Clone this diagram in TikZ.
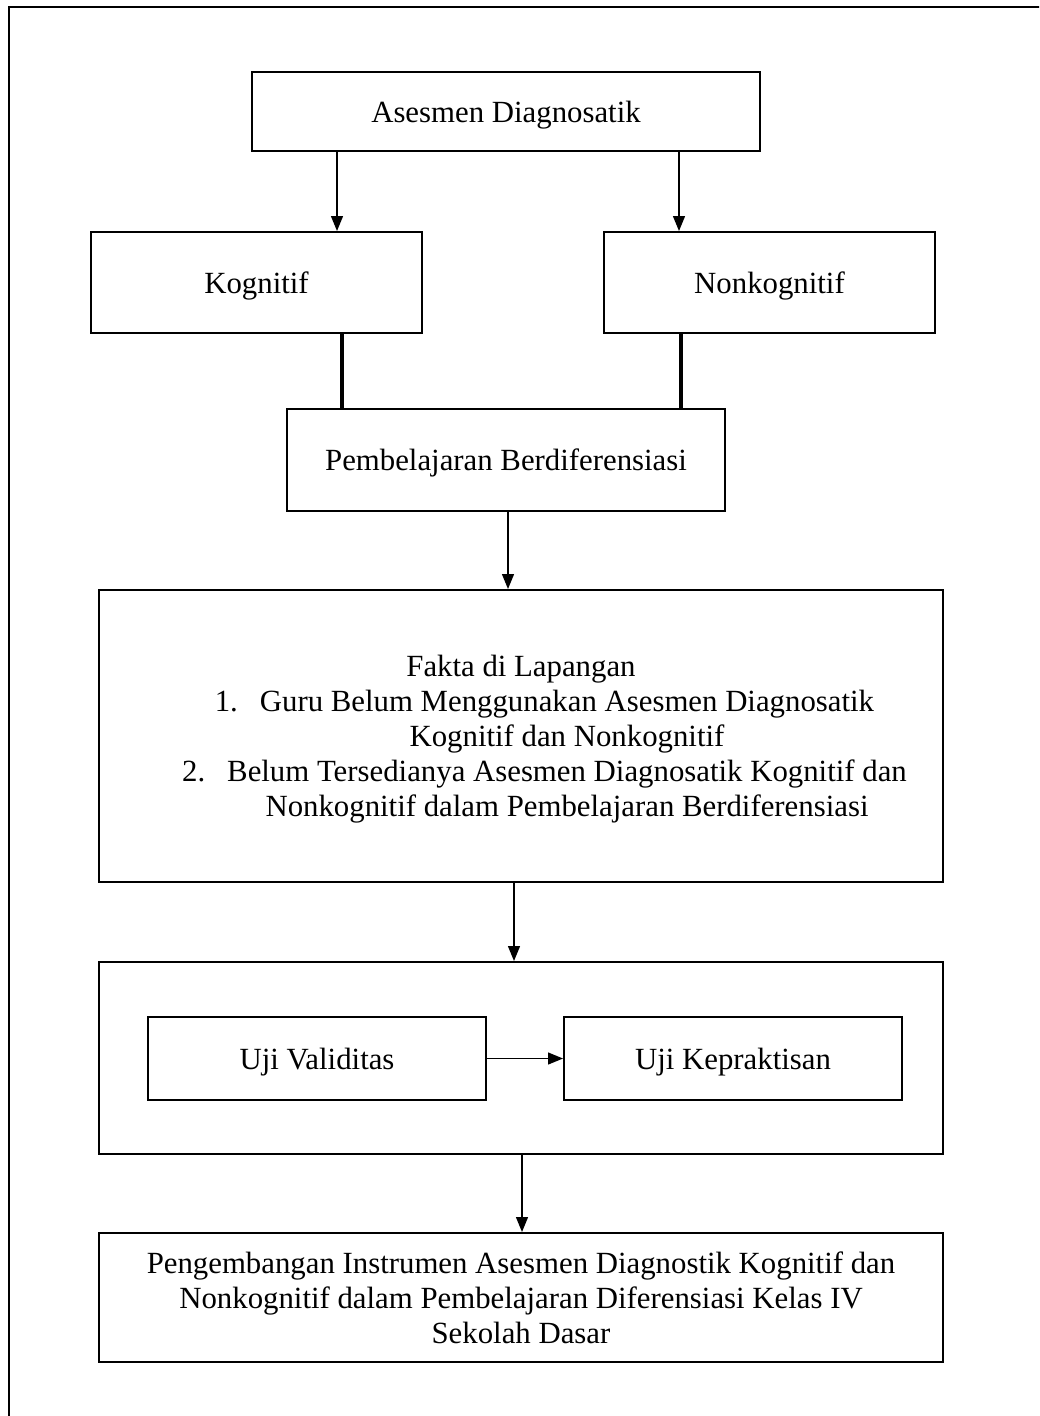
\documentclass[tikz,border=0pt]{standalone}
\usepackage{fontspec}
\setmainfont{Liberation Serif}
\usetikzlibrary{arrows.meta,positioning}

\begin{document}
\begin{tikzpicture}[
  x=1pt,y=-1pt,
  flow/.style={-{Triangle[length=15pt,width=12pt]},draw=black,line width=1.3pt},
  join line/.style={draw=black,line width=3.4pt},
  page frame/.style={draw=black,line width=2.4pt},
  flow box/.style={draw=black,line width=2pt,inner sep=0pt,align=center,
    text depth=0pt,font=\fontsize{30.8}{35}\selectfont},
  wide box/.style={flow box,minimum width=844pt}
]
\useasboundingbox (0,0) rectangle (1039,1416);
\clip (0,0) rectangle (1039,1416);

% page frame, cut at the right and bottom edges
\draw[page frame] (9,1440) -- (9,7) -- (1060,7);

% top: diagnostic assessment and its two kinds
\node[flow box,minimum width=508pt,minimum height=79pt,text depth=-3pt] (asesmen) at (506,111.5)
  {Asesmen Diagnosatik};
\node[flow box,minimum width=331pt,minimum height=101pt] (kognitif) at (256.5,282.5)
  {Kognitif};
\node[flow box,minimum width=331pt,minimum height=101pt,right=180pt of kognitif] (nonkognitif)
  {Nonkognitif};
\node[flow box,minimum width=438pt,minimum height=102pt] (berdiferensiasi) at (506,460)
  {Pembelajaran Berdiferensiasi};
\draw[flow] ([xshift=-169pt]asesmen.south) -- ([xshift=-169pt]asesmen.south |- kognitif.north);
\draw[flow] ([xshift=173pt]asesmen.south) -- ([xshift=173pt]asesmen.south |- nonkognitif.north);
\draw[join line] ([xshift=85.5pt]kognitif.south) -- ([xshift=85.5pt]kognitif.south |- berdiferensiasi.north);
\draw[join line] ([xshift=-88.5pt]nonkognitif.south) -- ([xshift=-88.5pt]nonkognitif.south |- berdiferensiasi.north);

% field facts
\node[wide box,minimum height=292pt] (fakta) at (521,736) {
  Fakta di Lapangan\\
  \hspace*{92pt}\llap{1.\hspace{22pt}}Guru Belum Menggunakan Asesmen Diagnosatik\\
  \hspace*{92pt}Kognitif dan Nonkognitif\\
  \hspace*{92pt}\llap{2.\hspace{22pt}}Belum Tersedianya Asesmen Diagnosatik Kognitif dan\\
  \hspace*{92pt}Nonkognitif dalam Pembelajaran Berdiferensiasi
};
\draw[flow] ([xshift=2pt]berdiferensiasi.south) -- ([xshift=2pt]berdiferensiasi.south |- fakta.north);

% validity and practicality tests
\node[wide box,minimum height=192pt] (uji) at (521,1058) {};
\node[flow box,minimum width=338pt,minimum height=83pt] (validitas) at (317,1058.5)
  {Uji Validitas};
\node[flow box,minimum width=338pt,minimum height=83pt,right=76pt of validitas] (kepraktisan)
  {Uji Kepraktisan};
\draw[flow] (validitas.east) -- (kepraktisan.west);
\draw[flow] ([xshift=-7pt]fakta.south) -- ([xshift=-7pt]fakta.south |- uji.north);

% outcome
\node[wide box,minimum height=129pt] (pengembangan) at (521,1297.5) {
  Pengembangan Instrumen Asesmen Diagnostik Kognitif dan\\
  Nonkognitif dalam Pembelajaran Diferensiasi Kelas IV\\
  Sekolah Dasar
};
\draw[flow] ([xshift=1pt]uji.south) -- ([xshift=1pt]uji.south |- pengembangan.north);

\end{tikzpicture}
\end{document}
